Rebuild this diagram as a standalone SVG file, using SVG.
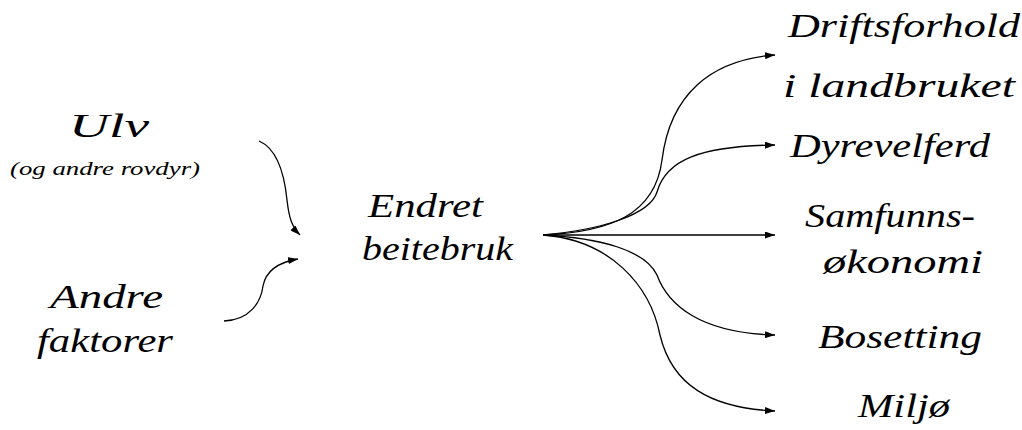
<svg xmlns="http://www.w3.org/2000/svg" width="1022" height="430" viewBox="0 0 1022 430">
  <defs>
    <marker id="arrow" viewBox="0 0 10 7" refX="10" refY="3.5" markerWidth="10" markerHeight="7" markerUnits="userSpaceOnUse" orient="auto">
      <path d="M0,0 L10,3.5 L0,7 z" fill="#000"/>
    </marker>
    <style>
      .lbl { font-family: "Liberation Serif", "DejaVu Serif", serif; font-style: italic; fill: #000; }
      .big { font-size: 34px; }
      .small { font-size: 18px; }
      .edge { fill: none; stroke: #000; stroke-width: 1.3; marker-end: url(#arrow); }
    </style>
  </defs>
  <rect width="1022" height="430" fill="#fff"/>

  <g id="connectors">
    <path class="edge" d="M259,141 C280,150 285,180 287,200 C289,218 292,227 300,235"/>
    <path class="edge" d="M224,321 C250,320 261,302 263,286 C266,270 280,262 298,259"/>
    <path class="edge" d="M543,235 C610,232 655,215 662,160 C670,95 710,60 775,55"/>
    <path class="edge" d="M543,235 C600,230 650,215 657,192 C666,160 700,146 775,145"/>
    <path class="edge" d="M543,235 L775,235"/>
    <path class="edge" d="M543,235 C600,238 645,250 657,275 C668,305 700,333 775,335"/>
    <path class="edge" d="M543,235 C610,240 650,285 660,335 C672,385 710,408 775,411"/>
  </g>

  <g id="node-ulv">
    <text class="lbl big" x="69" y="137" textLength="80" lengthAdjust="spacingAndGlyphs">Ulv</text>
    <text class="lbl small" x="10" y="175" textLength="190" lengthAdjust="spacingAndGlyphs">(og andre rovdyr)</text>
  </g>

  <g id="node-andre">
    <text class="lbl big" x="50" y="308" textLength="113" lengthAdjust="spacingAndGlyphs">Andre</text>
    <text class="lbl big" x="37" y="352" textLength="136" lengthAdjust="spacingAndGlyphs">faktorer</text>
  </g>

  <g id="node-endret">
    <text class="lbl big" x="368" y="217" textLength="115" lengthAdjust="spacingAndGlyphs">Endret</text>
    <text class="lbl big" x="362" y="260" textLength="151" lengthAdjust="spacingAndGlyphs">beitebruk</text>
  </g>

  <g id="node-drift">
    <text class="lbl big" x="788" y="37" textLength="232" lengthAdjust="spacingAndGlyphs">Driftsforhold</text>
    <text class="lbl big" x="783" y="97" textLength="232" lengthAdjust="spacingAndGlyphs">i landbruket</text>
  </g>

  <g id="node-dyrevelferd">
    <text class="lbl big" x="790" y="157" textLength="200" lengthAdjust="spacingAndGlyphs">Dyrevelferd</text>
  </g>

  <g id="node-samfunn">
    <text class="lbl big" x="805" y="227" textLength="170" lengthAdjust="spacingAndGlyphs">Samfunns-</text>
    <text class="lbl big" x="823" y="273" textLength="160" lengthAdjust="spacingAndGlyphs">økonomi</text>
  </g>

  <g id="node-bosetting">
    <text class="lbl big" x="818" y="348" textLength="164" lengthAdjust="spacingAndGlyphs">Bosetting</text>
  </g>

  <g id="node-miljo">
    <text class="lbl big" x="858" y="417" textLength="92" lengthAdjust="spacingAndGlyphs">Miljø</text>
  </g>
</svg>
